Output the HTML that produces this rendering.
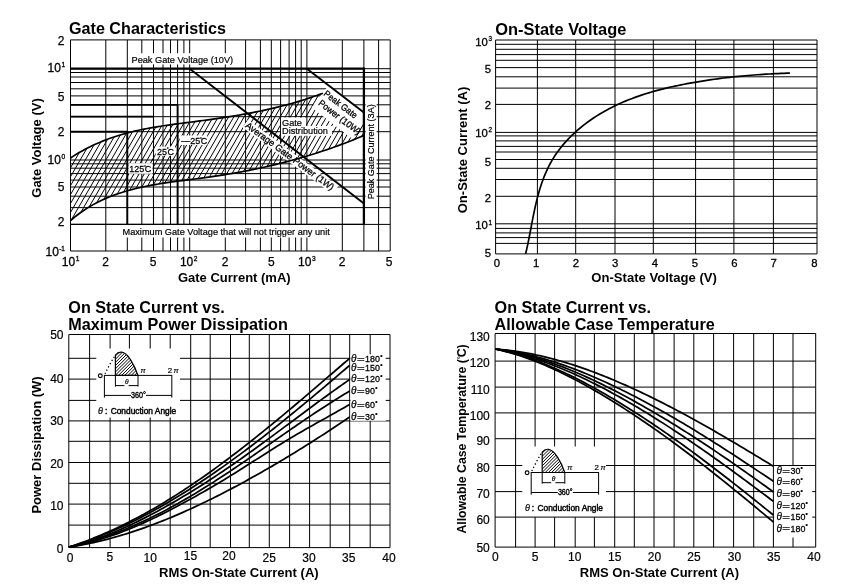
<!DOCTYPE html>
<html><head><meta charset="utf-8"><title>Characteristics</title>
<style>
html,body{margin:0;padding:0;background:#fff;}
body{width:841px;height:587px;overflow:hidden;}
svg{display:block;font-family:"Liberation Sans",sans-serif;}
</style></head><body>
<svg width="841" height="587" viewBox="0 0 841 587">
<rect width="841" height="587" fill="#fff"/>
<defs><clipPath id="c1"><path d="M70.50,158.00 L73.38,156.12 L76.28,154.32 L79.20,152.58 L82.14,150.90 L85.10,149.29 L88.07,147.75 L91.06,146.26 L94.07,144.84 L97.09,143.47 L100.13,142.16 L103.18,140.91 L106.25,139.72 L109.34,138.57 L112.43,137.48 L115.54,136.44 L118.67,135.45 L121.80,134.51 L124.95,133.61 L128.11,132.76 L131.29,131.96 L134.47,131.19 L137.66,130.47 L140.87,129.78 L144.08,129.12 L147.30,128.50 L150.53,127.90 L153.77,127.34 L157.02,126.80 L160.27,126.28 L163.53,125.78 L166.80,125.30 L170.08,124.83 L173.36,124.38 L176.64,123.94 L179.93,123.50 L183.23,123.07 L186.53,122.65 L189.83,122.23 L193.13,121.81 L196.44,121.38 L199.75,120.95 L203.06,120.51 L206.38,120.06 L209.69,119.60 L213.00,119.14 L216.32,118.66 L219.63,118.17 L222.95,117.67 L226.26,117.16 L229.57,116.64 L232.88,116.10 L236.18,115.55 L239.49,114.98 L242.79,114.40 L246.08,113.80 L249.37,113.19 L252.66,112.56 L255.94,111.91 L259.22,111.25 L262.49,110.56 L265.75,109.86 L269.01,109.14 L272.26,108.39 L275.50,107.63 L278.73,106.84 L281.96,106.03 L285.17,105.20 L288.38,104.34 L291.58,103.46 L294.76,102.56 L297.94,101.63 L301.10,100.67 L304.25,99.69 L307.39,98.68 L310.52,97.64 L313.64,96.57 L316.74,95.48 L319.83,94.36 L322.90,93.20 L363.9,112.42 L363.9,135.4 L364.00,135.40 L360.81,136.75 L357.61,138.08 L354.41,139.39 L351.19,140.68 L347.97,141.94 L344.74,143.19 L341.50,144.41 L338.25,145.61 L335.00,146.79 L331.74,147.95 L328.47,149.09 L325.19,150.21 L321.91,151.31 L318.61,152.39 L315.32,153.44 L312.01,154.48 L308.70,155.50 L305.38,156.50 L302.06,157.48 L298.73,158.43 L295.39,159.37 L292.04,160.29 L288.70,161.19 L285.34,162.08 L281.98,162.94 L278.61,163.78 L275.24,164.61 L271.86,165.42 L268.48,166.20 L265.09,166.98 L261.69,167.73 L258.29,168.46 L254.89,169.18 L251.48,169.88 L248.07,170.56 L244.65,171.22 L241.23,171.87 L237.80,172.50 L234.37,173.11 L230.94,173.70 L227.50,174.28 L224.06,174.84 L220.61,175.39 L217.16,175.92 L213.71,176.43 L210.25,176.93 L206.79,177.41 L203.33,177.87 L199.86,178.33 L196.40,178.78 L192.93,179.22 L189.47,179.66 L186.01,180.10 L182.55,180.55 L179.10,181.00 L175.65,181.46 L172.20,181.93 L168.77,182.42 L165.34,182.93 L161.91,183.46 L158.50,184.01 L155.10,184.58 L151.71,185.19 L148.33,185.83 L144.97,186.50 L141.62,187.21 L138.28,187.96 L134.96,188.76 L131.66,189.60 L128.37,190.49 L125.10,191.44 L121.86,192.44 L118.63,193.49 L115.42,194.61 L112.24,195.79 L109.08,197.04 L105.94,198.35 L102.83,199.74 L99.74,201.21 L96.68,202.75 L93.65,204.37 L90.65,206.08 L87.67,207.87 L84.73,209.75 L81.82,211.72 L78.94,213.79 L76.09,215.96 L73.27,218.23 L70.50,220.60 Z"/></clipPath></defs>
<line x1="70.50" y1="39.90" x2="70.50" y2="251.00" stroke="#000" stroke-width="1.0" />
<line x1="105.80" y1="39.90" x2="105.80" y2="251.00" stroke="#000" stroke-width="1.0" />
<line x1="127.30" y1="39.90" x2="127.30" y2="224.40" stroke="#000" stroke-width="1.0" />
<line x1="127.30" y1="237.50" x2="127.30" y2="251.00" stroke="#000" stroke-width="1.0" />
<line x1="141.80" y1="39.90" x2="141.80" y2="53.20" stroke="#000" stroke-width="1.0" />
<line x1="141.80" y1="64.40" x2="141.80" y2="224.40" stroke="#000" stroke-width="1.0" />
<line x1="141.80" y1="237.50" x2="141.80" y2="251.00" stroke="#000" stroke-width="1.0" />
<line x1="153.50" y1="39.90" x2="153.50" y2="53.20" stroke="#000" stroke-width="1.0" />
<line x1="153.50" y1="64.40" x2="153.50" y2="224.40" stroke="#000" stroke-width="1.0" />
<line x1="153.50" y1="237.50" x2="153.50" y2="251.00" stroke="#000" stroke-width="1.0" />
<line x1="163.00" y1="39.90" x2="163.00" y2="53.20" stroke="#000" stroke-width="1.0" />
<line x1="163.00" y1="64.40" x2="163.00" y2="224.40" stroke="#000" stroke-width="1.0" />
<line x1="163.00" y1="237.50" x2="163.00" y2="251.00" stroke="#000" stroke-width="1.0" />
<line x1="170.50" y1="39.90" x2="170.50" y2="53.20" stroke="#000" stroke-width="1.0" />
<line x1="170.50" y1="64.40" x2="170.50" y2="224.40" stroke="#000" stroke-width="1.0" />
<line x1="170.50" y1="237.50" x2="170.50" y2="251.00" stroke="#000" stroke-width="1.0" />
<line x1="177.60" y1="39.90" x2="177.60" y2="53.20" stroke="#000" stroke-width="1.0" />
<line x1="177.60" y1="64.40" x2="177.60" y2="224.40" stroke="#000" stroke-width="1.0" />
<line x1="177.60" y1="237.50" x2="177.60" y2="251.00" stroke="#000" stroke-width="1.0" />
<line x1="183.90" y1="39.90" x2="183.90" y2="53.20" stroke="#000" stroke-width="1.0" />
<line x1="183.90" y1="64.40" x2="183.90" y2="224.40" stroke="#000" stroke-width="1.0" />
<line x1="183.90" y1="237.50" x2="183.90" y2="251.00" stroke="#000" stroke-width="1.0" />
<line x1="189.70" y1="39.90" x2="189.70" y2="53.20" stroke="#000" stroke-width="1.0" />
<line x1="189.70" y1="64.40" x2="189.70" y2="224.40" stroke="#000" stroke-width="1.0" />
<line x1="189.70" y1="237.50" x2="189.70" y2="251.00" stroke="#000" stroke-width="1.0" />
<line x1="225.30" y1="39.90" x2="225.30" y2="53.20" stroke="#000" stroke-width="1.0" />
<line x1="225.30" y1="64.40" x2="225.30" y2="224.40" stroke="#000" stroke-width="1.0" />
<line x1="225.30" y1="237.50" x2="225.30" y2="251.00" stroke="#000" stroke-width="1.0" />
<line x1="245.60" y1="39.90" x2="245.60" y2="224.40" stroke="#000" stroke-width="1.0" />
<line x1="245.60" y1="237.50" x2="245.60" y2="251.00" stroke="#000" stroke-width="1.0" />
<line x1="260.40" y1="39.90" x2="260.40" y2="224.40" stroke="#000" stroke-width="1.0" />
<line x1="260.40" y1="237.50" x2="260.40" y2="251.00" stroke="#000" stroke-width="1.0" />
<line x1="271.30" y1="39.90" x2="271.30" y2="224.40" stroke="#000" stroke-width="1.0" />
<line x1="271.30" y1="237.50" x2="271.30" y2="251.00" stroke="#000" stroke-width="1.0" />
<line x1="280.60" y1="39.90" x2="280.60" y2="224.40" stroke="#000" stroke-width="1.0" />
<line x1="280.60" y1="237.50" x2="280.60" y2="251.00" stroke="#000" stroke-width="1.0" />
<line x1="289.10" y1="39.90" x2="289.10" y2="224.40" stroke="#000" stroke-width="1.0" />
<line x1="289.10" y1="237.50" x2="289.10" y2="251.00" stroke="#000" stroke-width="1.0" />
<line x1="295.60" y1="39.90" x2="295.60" y2="224.40" stroke="#000" stroke-width="1.0" />
<line x1="295.60" y1="237.50" x2="295.60" y2="251.00" stroke="#000" stroke-width="1.0" />
<line x1="301.20" y1="39.90" x2="301.20" y2="224.40" stroke="#000" stroke-width="1.0" />
<line x1="301.20" y1="237.50" x2="301.20" y2="251.00" stroke="#000" stroke-width="1.0" />
<line x1="306.90" y1="39.90" x2="306.90" y2="224.40" stroke="#000" stroke-width="1.0" />
<line x1="306.90" y1="237.50" x2="306.90" y2="251.00" stroke="#000" stroke-width="1.0" />
<line x1="342.30" y1="39.90" x2="342.30" y2="251.00" stroke="#000" stroke-width="1.0" />
<line x1="363.90" y1="39.90" x2="363.90" y2="251.00" stroke="#000" stroke-width="1.0" />
<line x1="378.60" y1="39.90" x2="378.60" y2="251.00" stroke="#000" stroke-width="1.0" />
<line x1="390.20" y1="39.90" x2="390.20" y2="251.00" stroke="#000" stroke-width="1.0" />
<line x1="70.50" y1="39.90" x2="390.20" y2="39.90" stroke="#000" stroke-width="1.0" />
<line x1="70.50" y1="68.70" x2="390.20" y2="68.70" stroke="#000" stroke-width="1.0" />
<line x1="70.50" y1="72.50" x2="390.20" y2="72.50" stroke="#000" stroke-width="1.0" />
<line x1="70.50" y1="77.00" x2="390.20" y2="77.00" stroke="#000" stroke-width="1.0" />
<line x1="70.50" y1="82.50" x2="390.20" y2="82.50" stroke="#000" stroke-width="1.0" />
<line x1="70.50" y1="88.80" x2="390.20" y2="88.80" stroke="#000" stroke-width="1.0" />
<line x1="70.50" y1="95.90" x2="390.20" y2="95.90" stroke="#000" stroke-width="1.0" />
<line x1="70.50" y1="104.80" x2="390.20" y2="104.80" stroke="#000" stroke-width="1.0" />
<line x1="70.50" y1="116.70" x2="390.20" y2="116.70" stroke="#000" stroke-width="1.0" />
<line x1="70.50" y1="131.70" x2="390.20" y2="131.70" stroke="#000" stroke-width="1.0" />
<line x1="70.50" y1="160.00" x2="390.20" y2="160.00" stroke="#000" stroke-width="1.0" />
<line x1="70.50" y1="163.80" x2="390.20" y2="163.80" stroke="#000" stroke-width="1.0" />
<line x1="70.50" y1="168.20" x2="390.20" y2="168.20" stroke="#000" stroke-width="1.0" />
<line x1="70.50" y1="173.60" x2="390.20" y2="173.60" stroke="#000" stroke-width="1.0" />
<line x1="70.50" y1="180.10" x2="390.20" y2="180.10" stroke="#000" stroke-width="1.0" />
<line x1="70.50" y1="187.00" x2="390.20" y2="187.00" stroke="#000" stroke-width="1.0" />
<line x1="70.50" y1="196.20" x2="390.20" y2="196.20" stroke="#000" stroke-width="1.0" />
<line x1="70.50" y1="207.60" x2="390.20" y2="207.60" stroke="#000" stroke-width="1.0" />
<line x1="70.50" y1="224.40" x2="390.20" y2="224.40" stroke="#000" stroke-width="1.0" />
<line x1="70.50" y1="251.00" x2="390.20" y2="251.00" stroke="#000" stroke-width="1.0" />
<g clip-path="url(#c1)" stroke="#000" stroke-width="1.0">
<line x1="-78.70" y1="230" x2="7.90" y2="80"/>
<line x1="-73.55" y1="230" x2="13.05" y2="80"/>
<line x1="-68.40" y1="230" x2="18.20" y2="80"/>
<line x1="-63.25" y1="230" x2="23.35" y2="80"/>
<line x1="-58.10" y1="230" x2="28.50" y2="80"/>
<line x1="-52.95" y1="230" x2="33.65" y2="80"/>
<line x1="-47.80" y1="230" x2="38.80" y2="80"/>
<line x1="-42.65" y1="230" x2="43.95" y2="80"/>
<line x1="-37.50" y1="230" x2="49.10" y2="80"/>
<line x1="-32.35" y1="230" x2="54.25" y2="80"/>
<line x1="-27.20" y1="230" x2="59.40" y2="80"/>
<line x1="-22.05" y1="230" x2="64.55" y2="80"/>
<line x1="-16.90" y1="230" x2="69.70" y2="80"/>
<line x1="-11.75" y1="230" x2="74.85" y2="80"/>
<line x1="-6.60" y1="230" x2="80.00" y2="80"/>
<line x1="-1.45" y1="230" x2="85.15" y2="80"/>
<line x1="3.70" y1="230" x2="90.30" y2="80"/>
<line x1="8.85" y1="230" x2="95.45" y2="80"/>
<line x1="14.00" y1="230" x2="100.60" y2="80"/>
<line x1="19.15" y1="230" x2="105.75" y2="80"/>
<line x1="24.30" y1="230" x2="110.90" y2="80"/>
<line x1="29.45" y1="230" x2="116.05" y2="80"/>
<line x1="34.60" y1="230" x2="121.20" y2="80"/>
<line x1="39.75" y1="230" x2="126.35" y2="80"/>
<line x1="44.90" y1="230" x2="131.50" y2="80"/>
<line x1="50.05" y1="230" x2="136.65" y2="80"/>
<line x1="55.20" y1="230" x2="141.80" y2="80"/>
<line x1="60.35" y1="230" x2="146.95" y2="80"/>
<line x1="65.50" y1="230" x2="152.10" y2="80"/>
<line x1="70.65" y1="230" x2="157.25" y2="80"/>
<line x1="75.80" y1="230" x2="162.40" y2="80"/>
<line x1="80.95" y1="230" x2="167.55" y2="80"/>
<line x1="86.10" y1="230" x2="172.70" y2="80"/>
<line x1="91.25" y1="230" x2="177.85" y2="80"/>
<line x1="96.40" y1="230" x2="183.00" y2="80"/>
<line x1="101.55" y1="230" x2="188.15" y2="80"/>
<line x1="106.70" y1="230" x2="193.30" y2="80"/>
<line x1="111.85" y1="230" x2="198.45" y2="80"/>
<line x1="117.00" y1="230" x2="203.60" y2="80"/>
<line x1="122.15" y1="230" x2="208.75" y2="80"/>
<line x1="127.30" y1="230" x2="213.90" y2="80"/>
<line x1="132.45" y1="230" x2="219.05" y2="80"/>
<line x1="137.60" y1="230" x2="224.20" y2="80"/>
<line x1="142.75" y1="230" x2="229.35" y2="80"/>
<line x1="147.90" y1="230" x2="234.50" y2="80"/>
<line x1="153.05" y1="230" x2="239.65" y2="80"/>
<line x1="158.20" y1="230" x2="244.80" y2="80"/>
<line x1="163.35" y1="230" x2="249.95" y2="80"/>
<line x1="168.50" y1="230" x2="255.10" y2="80"/>
<line x1="173.65" y1="230" x2="260.25" y2="80"/>
<line x1="178.80" y1="230" x2="265.40" y2="80"/>
<line x1="183.95" y1="230" x2="270.55" y2="80"/>
<line x1="189.10" y1="230" x2="275.70" y2="80"/>
<line x1="194.25" y1="230" x2="280.85" y2="80"/>
<line x1="199.40" y1="230" x2="286.00" y2="80"/>
<line x1="204.55" y1="230" x2="291.15" y2="80"/>
<line x1="209.70" y1="230" x2="296.30" y2="80"/>
<line x1="214.85" y1="230" x2="301.45" y2="80"/>
<line x1="220.00" y1="230" x2="306.60" y2="80"/>
<line x1="225.15" y1="230" x2="311.75" y2="80"/>
<line x1="230.30" y1="230" x2="316.90" y2="80"/>
<line x1="235.45" y1="230" x2="322.05" y2="80"/>
<line x1="240.60" y1="230" x2="327.20" y2="80"/>
<line x1="245.75" y1="230" x2="332.35" y2="80"/>
<line x1="250.90" y1="230" x2="337.50" y2="80"/>
<line x1="256.05" y1="230" x2="342.65" y2="80"/>
<line x1="261.20" y1="230" x2="347.80" y2="80"/>
<line x1="266.35" y1="230" x2="352.95" y2="80"/>
<line x1="271.50" y1="230" x2="358.10" y2="80"/>
<line x1="276.65" y1="230" x2="363.25" y2="80"/>
<line x1="281.80" y1="230" x2="368.40" y2="80"/>
<line x1="286.95" y1="230" x2="373.55" y2="80"/>
<line x1="292.10" y1="230" x2="378.70" y2="80"/>
<line x1="297.25" y1="230" x2="383.85" y2="80"/>
<line x1="302.40" y1="230" x2="389.00" y2="80"/>
<line x1="307.55" y1="230" x2="394.15" y2="80"/>
<line x1="312.70" y1="230" x2="399.30" y2="80"/>
<line x1="317.85" y1="230" x2="404.45" y2="80"/>
<line x1="323.00" y1="230" x2="409.60" y2="80"/>
<line x1="328.15" y1="230" x2="414.75" y2="80"/>
<line x1="333.30" y1="230" x2="419.90" y2="80"/>
<line x1="338.45" y1="230" x2="425.05" y2="80"/>
<line x1="343.60" y1="230" x2="430.20" y2="80"/>
<line x1="348.75" y1="230" x2="435.35" y2="80"/>
<line x1="353.90" y1="230" x2="440.50" y2="80"/>
<line x1="359.05" y1="230" x2="445.65" y2="80"/>
<line x1="364.20" y1="230" x2="450.80" y2="80"/>
<line x1="369.35" y1="230" x2="455.95" y2="80"/>
<line x1="374.50" y1="230" x2="461.10" y2="80"/>
<line x1="379.65" y1="230" x2="466.25" y2="80"/>
</g>
<rect x="128.40" y="163.20" width="24.20" height="10.60" fill="#fff" />
<rect x="155.70" y="146.60" width="19.60" height="9.20" fill="#fff" />
<rect x="179.60" y="135.50" width="27.80" height="9.50" fill="#fff" />
<rect x="281.00" y="117.50" width="25.00" height="9.00" fill="#fff" />
<rect x="281.00" y="126.00" width="51.00" height="9.80" fill="#fff" />
<g transform="translate(249.8,117.3) rotate(36.5)">
<rect x="0.00" y="3.00" width="112.00" height="9.50" fill="#fff" />
</g>
<g transform="translate(328,88.5) rotate(37.6)">
<rect x="-1.50" y="-2.30" width="50.00" height="27.30" fill="#fff" />
</g>
<rect x="365.60" y="104.00" width="11.00" height="95.50" fill="#fff" />
<line x1="70.50" y1="68.70" x2="363.90" y2="68.70" stroke="#000" stroke-width="2.2" />
<line x1="363.90" y1="67.60" x2="363.90" y2="224.40" stroke="#000" stroke-width="2.3" />
<line x1="70.50" y1="224.40" x2="363.90" y2="224.40" stroke="#000" stroke-width="1.35" />
<line x1="70.50" y1="104.80" x2="177.60" y2="104.80" stroke="#000" stroke-width="1.8" />
<line x1="177.60" y1="104.80" x2="177.60" y2="224.40" stroke="#000" stroke-width="1.9" />
<line x1="70.50" y1="116.70" x2="153.50" y2="116.70" stroke="#000" stroke-width="1.8" />
<line x1="153.50" y1="116.70" x2="153.50" y2="224.40" stroke="#000" stroke-width="1.1" />
<line x1="70.50" y1="131.70" x2="127.30" y2="131.70" stroke="#000" stroke-width="2.0" />
<line x1="127.30" y1="131.70" x2="127.30" y2="224.40" stroke="#000" stroke-width="1.9" />
<line x1="189.70" y1="68.70" x2="363.90" y2="203.42" stroke="#000" stroke-width="1.9" />
<line x1="306.90" y1="68.70" x2="363.90" y2="112.42" stroke="#000" stroke-width="1.9" />
<path d="M70.50,158.00 L73.38,156.12 L76.28,154.32 L79.20,152.58 L82.14,150.90 L85.10,149.29 L88.07,147.75 L91.06,146.26 L94.07,144.84 L97.09,143.47 L100.13,142.16 L103.18,140.91 L106.25,139.72 L109.34,138.57 L112.43,137.48 L115.54,136.44 L118.67,135.45 L121.80,134.51 L124.95,133.61 L128.11,132.76 L131.29,131.96 L134.47,131.19 L137.66,130.47 L140.87,129.78 L144.08,129.12 L147.30,128.50 L150.53,127.90 L153.77,127.34 L157.02,126.80 L160.27,126.28 L163.53,125.78 L166.80,125.30 L170.08,124.83 L173.36,124.38 L176.64,123.94 L179.93,123.50 L183.23,123.07 L186.53,122.65 L189.83,122.23 L193.13,121.81 L196.44,121.38 L199.75,120.95 L203.06,120.51 L206.38,120.06 L209.69,119.60 L213.00,119.14 L216.32,118.66 L219.63,118.17 L222.95,117.67 L226.26,117.16 L229.57,116.64 L232.88,116.10 L236.18,115.55 L239.49,114.98 L242.79,114.40 L246.08,113.80 L249.37,113.19 L252.66,112.56 L255.94,111.91 L259.22,111.25 L262.49,110.56 L265.75,109.86 L269.01,109.14 L272.26,108.39 L275.50,107.63 L278.73,106.84 L281.96,106.03 L285.17,105.20 L288.38,104.34 L291.58,103.46 L294.76,102.56 L297.94,101.63 L301.10,100.67 L304.25,99.69 L307.39,98.68 L310.52,97.64 L313.64,96.57 L316.74,95.48 L319.83,94.36 L322.90,93.20" stroke="#000" stroke-width="1.7" fill="none" />
<path d="M70.50,220.60 L73.27,218.23 L76.09,215.96 L78.94,213.79 L81.82,211.72 L84.73,209.75 L87.67,207.87 L90.65,206.08 L93.65,204.37 L96.68,202.75 L99.74,201.21 L102.83,199.74 L105.94,198.35 L109.08,197.04 L112.24,195.79 L115.42,194.61 L118.63,193.49 L121.86,192.44 L125.10,191.44 L128.37,190.49 L131.66,189.60 L134.96,188.76 L138.28,187.96 L141.62,187.21 L144.97,186.50 L148.33,185.83 L151.71,185.19 L155.10,184.58 L158.50,184.01 L161.91,183.46 L165.34,182.93 L168.77,182.42 L172.20,181.93 L175.65,181.46 L179.10,181.00 L182.55,180.55 L186.01,180.10 L189.47,179.66 L192.93,179.22 L196.40,178.78 L199.86,178.33 L203.33,177.87 L206.79,177.41 L210.25,176.93 L213.71,176.43 L217.16,175.92 L220.61,175.39 L224.06,174.84 L227.50,174.28 L230.94,173.70 L234.37,173.11 L237.80,172.50 L241.23,171.87 L244.65,171.22 L248.07,170.56 L251.48,169.88 L254.89,169.18 L258.29,168.46 L261.69,167.73 L265.09,166.98 L268.48,166.20 L271.86,165.42 L275.24,164.61 L278.61,163.78 L281.98,162.94 L285.34,162.08 L288.70,161.19 L292.04,160.29 L295.39,159.37 L298.73,158.43 L302.06,157.48 L305.38,156.50 L308.70,155.50 L312.01,154.48 L315.32,153.44 L318.61,152.39 L321.91,151.31 L325.19,150.21 L328.47,149.09 L331.74,147.95 L335.00,146.79 L338.25,145.61 L341.50,144.41 L344.74,143.19 L347.97,141.94 L351.19,140.68 L354.41,139.39 L357.61,138.08 L360.81,136.75 L364.00,135.40" stroke="#000" stroke-width="1.7" fill="none" />
<g transform="translate(129.20,172.20) scale(0.92,1)"><text x="0" y="0" font-size="9.8" fill="#000" stroke="#000" stroke-width="0.25">125<tspan font-size="5.4" dy="-3.6" dx="-0.3">°</tspan><tspan dy="3.6" dx="-1.3">C</tspan></text></g>
<g transform="translate(157.00,155.00) scale(0.92,1)"><text x="0" y="0" font-size="9.8" fill="#000" stroke="#000" stroke-width="0.25">25<tspan font-size="5.4" dy="-3.6" dx="-0.3">°</tspan><tspan dy="3.6" dx="-1.3">C</tspan></text></g>
<g transform="translate(181.20,144.30) scale(0.92,1)"><text x="0" y="0" font-size="9.8" fill="#000" stroke="#000" stroke-width="0.25">—25<tspan font-size="5.4" dy="-3.6" dx="-0.3">°</tspan><tspan dy="3.6" dx="-1.3">C</tspan></text></g>
<text x="282.00" y="125.60" font-size="9.2" text-anchor="start" fill="#000" stroke="#000" stroke-width="0.2">Gate</text>
<text x="282.00" y="134.30" font-size="9.2" text-anchor="start" fill="#000" stroke="#000" stroke-width="0.2">Distribution</text>
<g transform="translate(249.8,117.3) rotate(36.5)">
<text x="1.50" y="10.50" font-size="9.2" text-anchor="start" fill="#000" stroke="#000" stroke-width="0.3">Average Gate Power (1W)</text>
</g>
<g transform="translate(328,88.5) rotate(37.6)">
<text x="0.00" y="8.00" font-size="9.2" text-anchor="start" fill="#000" stroke="#000" stroke-width="0.3" textLength="39.5" lengthAdjust="spacingAndGlyphs">Peak Gate</text>
<text x="1.50" y="18.80" font-size="9.2" text-anchor="start" fill="#000" stroke="#000" stroke-width="0.3" textLength="50.5" lengthAdjust="spacingAndGlyphs">Power (10W)</text>
</g>
<text x="373.60" y="199.30" font-size="9.2" text-anchor="start" fill="#000" stroke="#000" stroke-width="0.2" transform="rotate(-90 373.60 199.30)" textLength="95" lengthAdjust="spacingAndGlyphs">Peak Gate Current (3A)</text>
<text x="131.50" y="63.30" font-size="9.2" text-anchor="start" fill="#000" stroke="#000" stroke-width="0.2">Peak Gate Voltage (10V)</text>
<text x="122.50" y="235.20" font-size="9.2" text-anchor="start" fill="#000" stroke="#000" stroke-width="0.2">Maximum Gate Voltage that will not trigger any unit</text>
<text x="69.00" y="34.20" font-size="16.8" font-weight="bold" text-anchor="start" fill="#000" textLength="157" lengthAdjust="spacingAndGlyphs">Gate Characteristics</text>
<text x="234.30" y="282.00" font-size="13" font-weight="bold" text-anchor="middle" fill="#000">Gate Current (mA)</text>
<text x="40.50" y="148.00" font-size="13" font-weight="bold" text-anchor="middle" fill="#000" transform="rotate(-90 40.50 148.00)">Gate Voltage (V)</text>
<text x="64.40" y="45.10" font-size="12" text-anchor="end" fill="#000" stroke="#000" stroke-width="0.25">2</text>
<text x="64.40" y="100.90" font-size="12" text-anchor="end" fill="#000" stroke="#000" stroke-width="0.25">5</text>
<text x="64.40" y="135.70" font-size="12" text-anchor="end" fill="#000" stroke="#000" stroke-width="0.25">2</text>
<text x="64.40" y="191.30" font-size="12" text-anchor="end" fill="#000" stroke="#000" stroke-width="0.25">5</text>
<text x="64.40" y="226.40" font-size="12" text-anchor="end" fill="#000" stroke="#000" stroke-width="0.25">2</text>
<text x="47.60" y="72.00" font-size="12" fill="#000" stroke="#000" stroke-width="0.3">10<tspan font-size="6.6" dy="-4.6" dx="0.6">1</tspan></text>
<text x="47.60" y="163.80" font-size="12" fill="#000" stroke="#000" stroke-width="0.3">10<tspan font-size="6.6" dy="-4.6" dx="0.6">0</tspan></text>
<text x="45.60" y="256.40" font-size="12" fill="#000" stroke="#000" stroke-width="0.3">10<tspan font-size="6.4" dy="-5.2" dx="0.2">-1</tspan></text>
<text x="61.80" y="265.80" font-size="12" fill="#000" stroke="#000" stroke-width="0.3">10<tspan font-size="6.6" dy="-4.6" dx="0.6">1</tspan></text>
<text x="179.90" y="265.80" font-size="12" fill="#000" stroke="#000" stroke-width="0.3">10<tspan font-size="6.6" dy="-4.6" dx="0.6">2</tspan></text>
<text x="298.10" y="265.80" font-size="12" fill="#000" stroke="#000" stroke-width="0.3">10<tspan font-size="6.6" dy="-4.6" dx="0.6">3</tspan></text>
<text x="105.60" y="265.80" font-size="12" text-anchor="middle" fill="#000" stroke="#000" stroke-width="0.25">2</text>
<text x="153.20" y="265.80" font-size="12" text-anchor="middle" fill="#000" stroke="#000" stroke-width="0.25">5</text>
<text x="225.00" y="265.80" font-size="12" text-anchor="middle" fill="#000" stroke="#000" stroke-width="0.25">2</text>
<text x="271.30" y="265.80" font-size="12" text-anchor="middle" fill="#000" stroke="#000" stroke-width="0.25">5</text>
<text x="342.20" y="265.80" font-size="12" text-anchor="middle" fill="#000" stroke="#000" stroke-width="0.25">2</text>
<text x="389.00" y="265.80" font-size="12" text-anchor="middle" fill="#000" stroke="#000" stroke-width="0.25">5</text>
<line x1="495.60" y1="40.00" x2="495.60" y2="253.90" stroke="#000" stroke-width="1.0" />
<line x1="537.40" y1="40.00" x2="537.40" y2="253.90" stroke="#000" stroke-width="1.0" />
<line x1="575.70" y1="40.00" x2="575.70" y2="253.90" stroke="#000" stroke-width="1.0" />
<line x1="615.00" y1="40.00" x2="615.00" y2="253.90" stroke="#000" stroke-width="1.0" />
<line x1="653.30" y1="40.00" x2="653.30" y2="253.90" stroke="#000" stroke-width="1.0" />
<line x1="695.60" y1="40.00" x2="695.60" y2="253.90" stroke="#000" stroke-width="1.0" />
<line x1="733.90" y1="40.00" x2="733.90" y2="253.90" stroke="#000" stroke-width="1.0" />
<line x1="773.40" y1="40.00" x2="773.40" y2="253.90" stroke="#000" stroke-width="1.0" />
<line x1="817.00" y1="40.00" x2="817.00" y2="253.90" stroke="#000" stroke-width="1.0" />
<line x1="495.60" y1="40.00" x2="817.00" y2="40.00" stroke="#000" stroke-width="1.0" />
<line x1="495.60" y1="44.30" x2="817.00" y2="44.30" stroke="#000" stroke-width="1.0" />
<line x1="495.60" y1="49.30" x2="817.00" y2="49.30" stroke="#000" stroke-width="1.0" />
<line x1="495.60" y1="54.60" x2="817.00" y2="54.60" stroke="#000" stroke-width="1.0" />
<line x1="495.60" y1="60.30" x2="817.00" y2="60.30" stroke="#000" stroke-width="1.0" />
<line x1="495.60" y1="67.60" x2="817.00" y2="67.60" stroke="#000" stroke-width="1.0" />
<line x1="495.60" y1="76.80" x2="817.00" y2="76.80" stroke="#000" stroke-width="1.0" />
<line x1="495.60" y1="88.10" x2="817.00" y2="88.10" stroke="#000" stroke-width="1.0" />
<line x1="495.60" y1="104.40" x2="817.00" y2="104.40" stroke="#000" stroke-width="1.0" />
<line x1="495.60" y1="132.40" x2="817.00" y2="132.40" stroke="#000" stroke-width="1.0" />
<line x1="495.60" y1="135.90" x2="817.00" y2="135.90" stroke="#000" stroke-width="1.0" />
<line x1="495.60" y1="140.90" x2="817.00" y2="140.90" stroke="#000" stroke-width="1.0" />
<line x1="495.60" y1="146.40" x2="817.00" y2="146.40" stroke="#000" stroke-width="1.0" />
<line x1="495.60" y1="152.00" x2="817.00" y2="152.00" stroke="#000" stroke-width="1.0" />
<line x1="495.60" y1="159.50" x2="817.00" y2="159.50" stroke="#000" stroke-width="1.0" />
<line x1="495.60" y1="168.30" x2="817.00" y2="168.30" stroke="#000" stroke-width="1.0" />
<line x1="495.60" y1="179.50" x2="817.00" y2="179.50" stroke="#000" stroke-width="1.0" />
<line x1="495.60" y1="196.30" x2="817.00" y2="196.30" stroke="#000" stroke-width="1.0" />
<line x1="495.60" y1="223.80" x2="817.00" y2="223.80" stroke="#000" stroke-width="1.0" />
<line x1="495.60" y1="228.40" x2="817.00" y2="228.40" stroke="#000" stroke-width="1.0" />
<line x1="495.60" y1="232.90" x2="817.00" y2="232.90" stroke="#000" stroke-width="1.0" />
<line x1="495.60" y1="237.60" x2="817.00" y2="237.60" stroke="#000" stroke-width="1.0" />
<line x1="495.60" y1="243.40" x2="817.00" y2="243.40" stroke="#000" stroke-width="1.0" />
<line x1="495.60" y1="253.90" x2="817.00" y2="253.90" stroke="#000" stroke-width="1.0" />
<path d="M525.60,253.90 L526.29,251.01 L526.95,248.09 L527.59,245.16 L528.21,242.20 L528.81,239.23 L529.40,236.25 L529.97,233.25 L530.55,230.24 L531.12,227.23 L531.69,224.21 L532.27,221.19 L532.86,218.16 L533.46,215.14 L534.08,212.12 L534.72,209.11 L535.38,206.10 L536.07,203.10 L536.79,200.11 L537.54,197.14 L538.34,194.18 L539.17,191.24 L540.05,188.32 L540.97,185.42 L541.95,182.54 L542.97,179.69 L544.05,176.87 L545.19,174.08 L546.39,171.32 L547.65,168.60 L548.98,165.91 L550.38,163.27 L551.85,160.66 L553.40,158.10 L555.02,155.57 L556.70,153.10 L558.46,150.66 L560.28,148.27 L562.16,145.92 L564.10,143.62 L566.10,141.36 L568.16,139.15 L570.27,136.98 L572.44,134.85 L574.65,132.77 L576.91,130.74 L579.22,128.75 L581.56,126.81 L583.95,124.91 L586.38,123.06 L588.84,121.25 L591.33,119.50 L593.86,117.79 L596.41,116.12 L599.00,114.51 L601.60,112.94 L604.23,111.42 L606.88,109.94 L609.55,108.52 L612.23,107.14 L614.94,105.80 L617.66,104.51 L620.40,103.26 L623.16,102.05 L625.93,100.89 L628.72,99.76 L631.52,98.67 L634.34,97.61 L637.18,96.60 L640.02,95.61 L642.89,94.66 L645.76,93.75 L648.65,92.86 L651.55,92.01 L654.46,91.18 L657.38,90.38 L660.31,89.61 L663.26,88.86 L666.21,88.14 L669.17,87.44 L672.14,86.77 L675.12,86.12 L678.11,85.48 L681.10,84.87 L684.11,84.27 L687.11,83.69 L690.13,83.13 L693.15,82.58 L696.17,82.05 L699.20,81.54 L702.24,81.05 L705.27,80.57 L708.31,80.10 L711.36,79.66 L714.40,79.23 L717.45,78.81 L720.50,78.41 L723.55,78.03 L726.60,77.66 L729.65,77.31 L732.70,76.97 L735.74,76.64 L738.79,76.33 L741.84,76.04 L744.88,75.75 L747.92,75.49 L750.95,75.23 L753.98,74.99 L757.01,74.77 L760.04,74.55 L763.05,74.35 L766.07,74.16 L769.07,73.99 L772.07,73.82 L775.06,73.67 L778.05,73.54 L781.02,73.41 L783.99,73.29 L786.95,73.19 L789.90,73.10" stroke="#000" stroke-width="1.7" fill="none" stroke-linejoin="round"/>
<text x="495.30" y="34.60" font-size="16.5" font-weight="bold" text-anchor="start" fill="#000" textLength="131" lengthAdjust="spacingAndGlyphs">On-State Voltage</text>
<text x="654.10" y="282.10" font-size="13" font-weight="bold" text-anchor="middle" fill="#000" textLength="125.5" lengthAdjust="spacingAndGlyphs">On-State Voltage (V)</text>
<text x="467.00" y="150.00" font-size="13" font-weight="bold" text-anchor="middle" fill="#000" transform="rotate(-90 467.00 150.00)" textLength="126.5" lengthAdjust="spacingAndGlyphs">On-State Current (A)</text>
<text x="496.90" y="266.60" font-size="11.3" text-anchor="middle" fill="#000" stroke="#000" stroke-width="0.3">0</text>
<text x="536.20" y="266.60" font-size="11.3" text-anchor="middle" fill="#000" stroke="#000" stroke-width="0.3">1</text>
<text x="575.80" y="266.60" font-size="11.3" text-anchor="middle" fill="#000" stroke="#000" stroke-width="0.3">2</text>
<text x="615.20" y="266.60" font-size="11.3" text-anchor="middle" fill="#000" stroke="#000" stroke-width="0.3">3</text>
<text x="654.80" y="266.60" font-size="11.3" text-anchor="middle" fill="#000" stroke="#000" stroke-width="0.3">4</text>
<text x="695.00" y="266.60" font-size="11.3" text-anchor="middle" fill="#000" stroke="#000" stroke-width="0.3">5</text>
<text x="734.30" y="266.60" font-size="11.3" text-anchor="middle" fill="#000" stroke="#000" stroke-width="0.3">6</text>
<text x="773.70" y="266.60" font-size="11.3" text-anchor="middle" fill="#000" stroke="#000" stroke-width="0.3">7</text>
<text x="814.40" y="266.60" font-size="11.3" text-anchor="middle" fill="#000" stroke="#000" stroke-width="0.3">8</text>
<text x="491.00" y="72.70" font-size="11.3" text-anchor="end" fill="#000" stroke="#000" stroke-width="0.3">5</text>
<text x="491.00" y="109.40" font-size="11.3" text-anchor="end" fill="#000" stroke="#000" stroke-width="0.3">2</text>
<text x="491.00" y="165.80" font-size="11.3" text-anchor="end" fill="#000" stroke="#000" stroke-width="0.3">5</text>
<text x="491.00" y="202.10" font-size="11.3" text-anchor="end" fill="#000" stroke="#000" stroke-width="0.3">2</text>
<text x="491.00" y="257.10" font-size="11.3" text-anchor="end" fill="#000" stroke="#000" stroke-width="0.3">5</text>
<text x="475.20" y="46.00" font-size="11.3" fill="#000" stroke="#000" stroke-width="0.3">10<tspan font-size="6.3" dy="-4.6" dx="0.6">3</tspan></text>
<text x="475.20" y="136.90" font-size="11.3" fill="#000" stroke="#000" stroke-width="0.3">10<tspan font-size="6.3" dy="-4.6" dx="0.6">2</tspan></text>
<text x="475.20" y="229.10" font-size="11.3" fill="#000" stroke="#000" stroke-width="0.3">10<tspan font-size="6.3" dy="-4.6" dx="0.6">1</tspan></text>
<line x1="68.80" y1="334.50" x2="68.80" y2="547.60" stroke="#000" stroke-width="1.0" />
<line x1="89.60" y1="334.50" x2="89.60" y2="547.60" stroke="#000" stroke-width="1.0" />
<line x1="110.10" y1="334.50" x2="110.10" y2="348.50" stroke="#000" stroke-width="1.0" />
<line x1="110.10" y1="417.50" x2="110.10" y2="547.60" stroke="#000" stroke-width="1.0" />
<line x1="129.40" y1="334.50" x2="129.40" y2="348.50" stroke="#000" stroke-width="1.0" />
<line x1="129.40" y1="417.50" x2="129.40" y2="547.60" stroke="#000" stroke-width="1.0" />
<line x1="150.20" y1="334.50" x2="150.20" y2="348.50" stroke="#000" stroke-width="1.0" />
<line x1="150.20" y1="417.50" x2="150.20" y2="547.60" stroke="#000" stroke-width="1.0" />
<line x1="170.20" y1="334.50" x2="170.20" y2="348.50" stroke="#000" stroke-width="1.0" />
<line x1="170.20" y1="417.50" x2="170.20" y2="547.60" stroke="#000" stroke-width="1.0" />
<line x1="190.70" y1="334.50" x2="190.70" y2="547.60" stroke="#000" stroke-width="1.0" />
<line x1="210.20" y1="334.50" x2="210.20" y2="547.60" stroke="#000" stroke-width="1.0" />
<line x1="230.50" y1="334.50" x2="230.50" y2="547.60" stroke="#000" stroke-width="1.0" />
<line x1="249.30" y1="334.50" x2="249.30" y2="547.60" stroke="#000" stroke-width="1.0" />
<line x1="269.30" y1="334.50" x2="269.30" y2="547.60" stroke="#000" stroke-width="1.0" />
<line x1="289.60" y1="334.50" x2="289.60" y2="547.60" stroke="#000" stroke-width="1.0" />
<line x1="309.60" y1="334.50" x2="309.60" y2="547.60" stroke="#000" stroke-width="1.0" />
<line x1="330.20" y1="334.50" x2="330.20" y2="547.60" stroke="#000" stroke-width="1.0" />
<line x1="349.70" y1="334.50" x2="349.70" y2="547.60" stroke="#000" stroke-width="1.0" />
<line x1="370.20" y1="334.50" x2="370.20" y2="547.60" stroke="#000" stroke-width="1.0" />
<line x1="390.00" y1="334.50" x2="390.00" y2="547.60" stroke="#000" stroke-width="1.0" />
<line x1="68.80" y1="334.50" x2="390.00" y2="334.50" stroke="#000" stroke-width="1.0" />
<line x1="68.80" y1="358.30" x2="96.30" y2="358.30" stroke="#000" stroke-width="1.0" />
<line x1="180.00" y1="358.30" x2="390.00" y2="358.30" stroke="#000" stroke-width="1.0" />
<line x1="68.80" y1="379.10" x2="96.30" y2="379.10" stroke="#000" stroke-width="1.0" />
<line x1="180.00" y1="379.10" x2="390.00" y2="379.10" stroke="#000" stroke-width="1.0" />
<line x1="68.80" y1="400.40" x2="96.30" y2="400.40" stroke="#000" stroke-width="1.0" />
<line x1="180.00" y1="400.40" x2="390.00" y2="400.40" stroke="#000" stroke-width="1.0" />
<line x1="68.80" y1="420.90" x2="390.00" y2="420.90" stroke="#000" stroke-width="1.0" />
<line x1="68.80" y1="441.30" x2="390.00" y2="441.30" stroke="#000" stroke-width="1.0" />
<line x1="68.80" y1="462.50" x2="390.00" y2="462.50" stroke="#000" stroke-width="1.0" />
<line x1="68.80" y1="483.30" x2="390.00" y2="483.30" stroke="#000" stroke-width="1.0" />
<line x1="68.80" y1="504.10" x2="390.00" y2="504.10" stroke="#000" stroke-width="1.0" />
<line x1="68.80" y1="525.10" x2="390.00" y2="525.10" stroke="#000" stroke-width="1.0" />
<line x1="68.80" y1="547.60" x2="390.00" y2="547.60" stroke="#000" stroke-width="1.0" />
<path d="M68.80,547.20 L72.09,546.11 L75.37,544.98 L78.63,543.83 L81.88,542.65 L85.11,541.45 L88.34,540.21 L91.55,538.96 L94.74,537.67 L97.93,536.36 L101.10,535.03 L104.26,533.67 L107.41,532.29 L110.54,530.88 L113.67,529.45 L116.78,528.00 L119.88,526.52 L122.97,525.03 L126.04,523.50 L129.11,521.96 L132.16,520.40 L135.21,518.81 L138.24,517.21 L141.26,515.58 L144.27,513.94 L147.28,512.27 L150.27,510.59 L153.25,508.89 L156.22,507.16 L159.18,505.42 L162.13,503.67 L165.07,501.89 L168.00,500.10 L170.92,498.29 L173.83,496.47 L176.74,494.63 L179.63,492.77 L182.52,490.90 L185.39,489.01 L188.26,487.11 L191.12,485.20 L193.97,483.27 L196.82,481.33 L199.65,479.37 L202.48,477.41 L205.30,475.43 L208.11,473.43 L210.92,471.43 L213.71,469.42 L216.50,467.39 L219.28,465.35 L222.06,463.31 L224.83,461.25 L227.59,459.19 L230.35,457.11 L233.10,455.03 L235.84,452.94 L238.57,450.84 L241.30,448.73 L244.03,446.61 L246.75,444.49 L249.46,442.36 L252.17,440.22 L254.87,438.08 L257.57,435.93 L260.26,433.77 L262.95,431.61 L265.63,429.44 L268.31,427.26 L270.98,425.08 L273.65,422.90 L276.31,420.71 L278.97,418.51 L281.63,416.31 L284.28,414.11 L286.93,411.90 L289.57,409.69 L292.21,407.47 L294.85,405.26 L297.48,403.03 L300.12,400.81 L302.74,398.58 L305.37,396.35 L307.99,394.12 L310.61,391.89 L313.23,389.65 L315.85,387.41 L318.46,385.17 L321.07,382.93 L323.68,380.69 L326.29,378.45 L328.89,376.21 L331.50,373.97 L334.10,371.73 L336.70,369.49 L339.30,367.25 L341.90,365.01 L344.50,362.77 L347.10,360.54 L349.70,358.30" stroke="#000" stroke-width="1.75" fill="none" stroke-linejoin="round"/>
<path d="M68.80,547.20 L72.07,546.19 L75.32,545.15 L78.56,544.08 L81.80,542.98 L85.01,541.85 L88.22,540.70 L91.42,539.52 L94.60,538.32 L97.77,537.09 L100.94,535.83 L104.08,534.55 L107.22,533.24 L110.35,531.91 L113.47,530.56 L116.57,529.18 L119.67,527.78 L122.75,526.36 L125.83,524.91 L128.89,523.45 L131.95,521.96 L134.99,520.45 L138.02,518.92 L141.05,517.37 L144.06,515.80 L147.06,514.21 L150.06,512.60 L153.04,510.97 L156.02,509.32 L158.98,507.66 L161.94,505.98 L164.89,504.28 L167.83,502.57 L170.76,500.84 L173.68,499.09 L176.59,497.33 L179.49,495.55 L182.39,493.76 L185.27,491.96 L188.15,490.14 L191.02,488.30 L193.88,486.46 L196.74,484.60 L199.58,482.73 L202.42,480.85 L205.25,478.95 L208.08,477.05 L210.89,475.13 L213.70,473.20 L216.50,471.26 L219.30,469.31 L222.08,467.35 L224.86,465.38 L227.64,463.40 L230.40,461.41 L233.16,459.41 L235.92,457.40 L238.67,455.39 L241.41,453.36 L244.14,451.33 L246.87,449.28 L249.59,447.23 L252.31,445.18 L255.02,443.11 L257.73,441.04 L260.43,438.96 L263.12,436.87 L265.81,434.78 L268.50,432.68 L271.17,430.57 L273.85,428.46 L276.52,426.34 L279.18,424.21 L281.84,422.08 L284.50,419.94 L287.15,417.80 L289.79,415.65 L292.44,413.50 L295.07,411.34 L297.71,409.18 L300.34,407.02 L302.96,404.85 L305.59,402.67 L308.21,400.50 L310.82,398.32 L313.43,396.13 L316.04,393.94 L318.65,391.75 L321.25,389.56 L323.85,387.36 L326.44,385.16 L329.04,382.96 L331.63,380.76 L334.22,378.56 L336.80,376.35 L339.39,374.14 L341.97,371.93 L344.55,369.72 L347.12,367.51 L349.70,365.30" stroke="#000" stroke-width="1.75" fill="none" stroke-linejoin="round"/>
<path d="M68.80,547.20 L72.05,546.40 L75.30,545.55 L78.52,544.67 L81.73,543.74 L84.93,542.78 L88.12,541.78 L91.29,540.75 L94.45,539.68 L97.59,538.57 L100.72,537.44 L103.84,536.27 L106.95,535.07 L110.05,533.84 L113.13,532.58 L116.20,531.30 L119.26,529.98 L122.30,528.64 L125.34,527.28 L128.36,525.89 L131.38,524.48 L134.38,523.05 L137.37,521.59 L140.35,520.12 L143.32,518.63 L146.28,517.12 L149.23,515.59 L152.17,514.05 L155.10,512.49 L158.03,510.91 L160.94,509.32 L163.84,507.72 L166.73,506.10 L169.62,504.47 L172.50,502.83 L175.36,501.17 L178.22,499.50 L181.08,497.82 L183.92,496.12 L186.76,494.41 L189.59,492.69 L192.41,490.96 L195.22,489.22 L198.03,487.47 L200.83,485.70 L203.62,483.93 L206.41,482.14 L209.19,480.34 L211.97,478.54 L214.74,476.72 L217.50,474.89 L220.26,473.05 L223.01,471.19 L225.76,469.33 L228.50,467.46 L231.24,465.58 L233.98,463.68 L236.70,461.78 L239.43,459.87 L242.15,457.95 L244.87,456.02 L247.58,454.08 L250.29,452.14 L253.00,450.19 L255.70,448.23 L258.40,446.27 L261.10,444.30 L263.79,442.33 L266.48,440.35 L269.17,438.37 L271.86,436.38 L274.55,434.40 L277.23,432.41 L279.91,430.41 L282.59,428.42 L285.27,426.42 L287.95,424.43 L290.63,422.43 L293.31,420.44 L295.98,418.45 L298.66,416.45 L301.34,414.46 L304.01,412.47 L306.69,410.49 L309.37,408.51 L312.05,406.53 L314.72,404.55 L317.40,402.58 L320.08,400.62 L322.77,398.66 L325.45,396.71 L328.14,394.76 L330.82,392.83 L333.51,390.90 L336.20,388.97 L338.90,387.06 L341.59,385.15 L344.29,383.26 L346.99,381.37 L349.70,379.50" stroke="#000" stroke-width="1.75" fill="none" stroke-linejoin="round"/>
<path d="M68.80,547.20 L72.05,546.44 L75.28,545.66 L78.50,544.84 L81.71,543.99 L84.89,543.11 L88.07,542.21 L91.23,541.28 L94.37,540.31 L97.51,539.32 L100.62,538.31 L103.73,537.27 L106.82,536.20 L109.90,535.10 L112.96,533.98 L116.01,532.83 L119.05,531.66 L122.08,530.47 L125.10,529.25 L128.10,528.01 L131.09,526.74 L134.08,525.46 L137.05,524.15 L140.00,522.82 L142.95,521.46 L145.89,520.09 L148.82,518.69 L151.74,517.28 L154.64,515.84 L157.54,514.39 L160.43,512.92 L163.31,511.43 L166.18,509.92 L169.04,508.39 L171.90,506.84 L174.74,505.28 L177.58,503.71 L180.41,502.11 L183.23,500.50 L186.05,498.88 L188.85,497.24 L191.65,495.58 L194.45,493.91 L197.23,492.23 L200.02,490.54 L202.79,488.83 L205.56,487.11 L208.32,485.38 L211.08,483.63 L213.83,481.88 L216.58,480.11 L219.32,478.34 L222.06,476.55 L224.80,474.76 L227.53,472.95 L230.25,471.14 L232.97,469.32 L235.69,467.49 L238.41,465.65 L241.12,463.81 L243.83,461.96 L246.54,460.10 L249.25,458.24 L251.95,456.38 L254.65,454.51 L257.35,452.64 L260.05,450.77 L262.74,448.89 L265.44,447.01 L268.13,445.13 L270.83,443.25 L273.52,441.37 L276.22,439.49 L278.91,437.62 L281.60,435.74 L284.30,433.87 L287.00,432.00 L289.69,430.13 L292.39,428.26 L295.09,426.41 L297.79,424.55 L300.49,422.70 L303.20,420.86 L305.90,419.02 L308.61,417.19 L311.32,415.37 L314.04,413.56 L316.76,411.76 L319.48,409.96 L322.20,408.18 L324.93,406.40 L327.66,404.64 L330.40,402.89 L333.14,401.15 L335.89,399.42 L338.64,397.71 L341.40,396.01 L344.16,394.32 L346.93,392.65 L349.70,391.00" stroke="#000" stroke-width="1.75" fill="none" stroke-linejoin="round"/>
<path d="M68.80,547.20 L71.99,546.59 L75.17,545.93 L78.33,545.25 L81.48,544.52 L84.62,543.76 L87.74,542.97 L90.85,542.14 L93.94,541.29 L97.03,540.39 L100.10,539.47 L103.16,538.52 L106.20,537.53 L109.24,536.52 L112.26,535.48 L115.27,534.41 L118.27,533.32 L121.26,532.19 L124.24,531.05 L127.21,529.87 L130.16,528.68 L133.11,527.46 L136.05,526.22 L138.98,524.95 L141.90,523.67 L144.80,522.36 L147.70,521.03 L150.60,519.69 L153.48,518.33 L156.35,516.94 L159.22,515.55 L162.08,514.13 L164.93,512.70 L167.77,511.26 L170.61,509.80 L173.44,508.33 L176.26,506.85 L179.07,505.35 L181.88,503.84 L184.68,502.33 L187.48,500.80 L190.27,499.26 L193.06,497.72 L195.84,496.17 L198.61,494.61 L201.38,493.04 L204.15,491.46 L206.91,489.87 L209.66,488.27 L212.41,486.67 L215.16,485.05 L217.91,483.42 L220.65,481.78 L223.39,480.13 L226.12,478.47 L228.86,476.80 L231.59,475.12 L234.32,473.42 L237.04,471.72 L239.76,470.01 L242.49,468.29 L245.21,466.56 L247.93,464.83 L250.65,463.10 L253.36,461.36 L256.08,459.62 L258.80,457.89 L261.52,456.15 L264.23,454.42 L266.95,452.70 L269.67,450.97 L272.39,449.26 L275.11,447.55 L277.83,445.85 L280.55,444.17 L283.27,442.49 L286.00,440.83 L288.73,439.18 L291.46,437.55 L294.19,435.93 L296.93,434.33 L299.66,432.73 L302.41,431.15 L305.15,429.58 L307.90,428.02 L310.65,426.46 L313.41,424.90 L316.17,423.35 L318.93,421.80 L321.70,420.25 L324.48,418.70 L327.25,417.14 L330.04,415.58 L332.83,414.02 L335.63,412.44 L338.43,410.86 L341.24,409.26 L344.05,407.66 L346.87,406.04 L349.70,404.40" stroke="#000" stroke-width="1.75" fill="none" stroke-linejoin="round"/>
<path d="M68.80,547.20 L71.92,546.71 L75.04,546.19 L78.15,545.65 L81.25,545.07 L84.35,544.48 L87.44,543.85 L90.52,543.20 L93.60,542.53 L96.67,541.83 L99.73,541.11 L102.79,540.36 L105.83,539.59 L108.88,538.79 L111.91,537.98 L114.94,537.14 L117.96,536.27 L120.98,535.39 L123.99,534.48 L126.99,533.55 L129.99,532.61 L132.98,531.64 L135.96,530.65 L138.94,529.64 L141.91,528.61 L144.88,527.56 L147.84,526.49 L150.79,525.41 L153.74,524.30 L156.68,523.18 L159.62,522.04 L162.55,520.89 L165.47,519.71 L168.39,518.52 L171.30,517.32 L174.20,516.09 L177.10,514.86 L180.00,513.60 L182.89,512.34 L185.77,511.05 L188.65,509.76 L191.52,508.45 L194.38,507.12 L197.24,505.79 L200.10,504.44 L202.95,503.08 L205.79,501.70 L208.63,500.32 L211.46,498.92 L214.29,497.51 L217.11,496.10 L219.93,494.67 L222.74,493.23 L225.55,491.78 L228.35,490.32 L231.15,488.86 L233.94,487.38 L236.73,485.90 L239.51,484.41 L242.29,482.90 L245.06,481.40 L247.83,479.88 L250.59,478.35 L253.34,476.82 L256.10,475.28 L258.84,473.73 L261.59,472.17 L264.33,470.61 L267.06,469.03 L269.79,467.45 L272.51,465.87 L275.23,464.27 L277.95,462.67 L280.66,461.06 L283.37,459.44 L286.07,457.82 L288.77,456.19 L291.46,454.55 L294.15,452.91 L296.83,451.26 L299.51,449.60 L302.19,447.94 L304.86,446.27 L307.53,444.59 L310.20,442.91 L312.86,441.22 L315.51,439.53 L318.17,437.83 L320.81,436.12 L323.46,434.41 L326.10,432.69 L328.74,430.97 L331.37,429.24 L334.00,427.51 L336.63,425.77 L339.25,424.03 L341.87,422.28 L344.48,420.52 L347.09,418.76 L349.70,417.00" stroke="#000" stroke-width="1.75" fill="none" stroke-linejoin="round"/>
<rect x="350.50" y="354.40" width="35.20" height="66.40" fill="#fff" />
<text x="351.00" y="362.10" font-size="10.0" font-style="italic" fill="#000" stroke="#000" stroke-width="0.25">θ</text>
<text x="356.90" y="362.00" font-size="9.6" fill="#000" stroke="#000" stroke-width="0.3" textLength="7.7" lengthAdjust="spacingAndGlyphs">=</text>
<text x="365.10" y="362.10" font-size="9.6" fill="#000" stroke="#000" stroke-width="0.3" textLength="14.85" lengthAdjust="spacingAndGlyphs">180</text>
<text x="380.15" y="359.00" font-size="5.6" font-weight="bold" fill="#000" stroke="#000" stroke-width="0.4">°</text>
<text x="351.00" y="371.10" font-size="10.0" font-style="italic" fill="#000" stroke="#000" stroke-width="0.25">θ</text>
<text x="356.90" y="371.00" font-size="9.6" fill="#000" stroke="#000" stroke-width="0.3" textLength="7.7" lengthAdjust="spacingAndGlyphs">=</text>
<text x="365.10" y="371.10" font-size="9.6" fill="#000" stroke="#000" stroke-width="0.3" textLength="14.85" lengthAdjust="spacingAndGlyphs">150</text>
<text x="380.15" y="368.00" font-size="5.6" font-weight="bold" fill="#000" stroke="#000" stroke-width="0.4">°</text>
<text x="351.00" y="382.40" font-size="10.0" font-style="italic" fill="#000" stroke="#000" stroke-width="0.25">θ</text>
<text x="356.90" y="382.30" font-size="9.6" fill="#000" stroke="#000" stroke-width="0.3" textLength="7.7" lengthAdjust="spacingAndGlyphs">=</text>
<text x="365.10" y="382.40" font-size="9.6" fill="#000" stroke="#000" stroke-width="0.3" textLength="14.85" lengthAdjust="spacingAndGlyphs">120</text>
<text x="380.15" y="379.30" font-size="5.6" font-weight="bold" fill="#000" stroke="#000" stroke-width="0.4">°</text>
<text x="351.00" y="394.20" font-size="10.0" font-style="italic" fill="#000" stroke="#000" stroke-width="0.25">θ</text>
<text x="356.90" y="394.10" font-size="9.6" fill="#000" stroke="#000" stroke-width="0.3" textLength="7.7" lengthAdjust="spacingAndGlyphs">=</text>
<text x="365.10" y="394.20" font-size="9.6" fill="#000" stroke="#000" stroke-width="0.3" textLength="9.90" lengthAdjust="spacingAndGlyphs">90</text>
<text x="375.20" y="391.10" font-size="5.6" font-weight="bold" fill="#000" stroke="#000" stroke-width="0.4">°</text>
<text x="351.00" y="408.00" font-size="10.0" font-style="italic" fill="#000" stroke="#000" stroke-width="0.25">θ</text>
<text x="356.90" y="407.90" font-size="9.6" fill="#000" stroke="#000" stroke-width="0.3" textLength="7.7" lengthAdjust="spacingAndGlyphs">=</text>
<text x="365.10" y="408.00" font-size="9.6" fill="#000" stroke="#000" stroke-width="0.3" textLength="9.90" lengthAdjust="spacingAndGlyphs">60</text>
<text x="375.20" y="404.90" font-size="5.6" font-weight="bold" fill="#000" stroke="#000" stroke-width="0.4">°</text>
<text x="351.00" y="420.30" font-size="10.0" font-style="italic" fill="#000" stroke="#000" stroke-width="0.25">θ</text>
<text x="356.90" y="420.20" font-size="9.6" fill="#000" stroke="#000" stroke-width="0.3" textLength="7.7" lengthAdjust="spacingAndGlyphs">=</text>
<text x="365.10" y="420.30" font-size="9.6" fill="#000" stroke="#000" stroke-width="0.3" textLength="9.90" lengthAdjust="spacingAndGlyphs">30</text>
<text x="375.20" y="417.20" font-size="5.6" font-weight="bold" fill="#000" stroke="#000" stroke-width="0.4">°</text>
<clipPath id="hc1"><path d="M115.40,375.40 L115.40,355.00 C117.00,353.00 119.60,352.00 121.60,352.20 C124.60,352.50 128.00,355.80 130.60,359.80 C133.60,364.40 136.00,369.80 138.00,375.40 Z"/></clipPath>
<path d="M115.40,375.40 L115.40,355.00 C117.00,353.00 119.60,352.00 121.60,352.20 C124.60,352.50 128.00,355.80 130.60,359.80 C133.60,364.40 136.00,369.80 138.00,375.40 Z" fill="#fff" stroke="none"/>
<g clip-path="url(#hc1)" stroke="#000" stroke-width="1.0">
<line x1="85.40" y1="376.40" x2="111.40" y2="350.40"/>
<line x1="88.60" y1="376.40" x2="114.60" y2="350.40"/>
<line x1="91.80" y1="376.40" x2="117.80" y2="350.40"/>
<line x1="95.00" y1="376.40" x2="121.00" y2="350.40"/>
<line x1="98.20" y1="376.40" x2="124.20" y2="350.40"/>
<line x1="101.40" y1="376.40" x2="127.40" y2="350.40"/>
<line x1="104.60" y1="376.40" x2="130.60" y2="350.40"/>
<line x1="107.80" y1="376.40" x2="133.80" y2="350.40"/>
<line x1="111.00" y1="376.40" x2="137.00" y2="350.40"/>
<line x1="114.20" y1="376.40" x2="140.20" y2="350.40"/>
<line x1="117.40" y1="376.40" x2="143.40" y2="350.40"/>
<line x1="120.60" y1="376.40" x2="146.60" y2="350.40"/>
<line x1="123.80" y1="376.40" x2="149.80" y2="350.40"/>
<line x1="127.00" y1="376.40" x2="153.00" y2="350.40"/>
<line x1="130.20" y1="376.40" x2="156.20" y2="350.40"/>
<line x1="133.40" y1="376.40" x2="159.40" y2="350.40"/>
<line x1="136.60" y1="376.40" x2="162.60" y2="350.40"/>
<line x1="139.80" y1="376.40" x2="165.80" y2="350.40"/>
<line x1="143.00" y1="376.40" x2="169.00" y2="350.40"/>
<line x1="146.20" y1="376.40" x2="172.20" y2="350.40"/>
<line x1="149.40" y1="376.40" x2="175.40" y2="350.40"/>
<line x1="152.60" y1="376.40" x2="178.60" y2="350.40"/>
</g>
<path d="M115.40,375.40 L115.40,355.00 C117.00,353.00 119.60,352.00 121.60,352.20 C124.60,352.50 128.00,355.80 130.60,359.80 C133.60,364.40 136.00,369.80 138.00,375.40 Z" fill="none" stroke="#000" stroke-width="1.2"/>
<line x1="104.00" y1="375.40" x2="172.20" y2="375.40" stroke="#000" stroke-width="1.0" />
<line x1="104.40" y1="375.40" x2="104.40" y2="397.60" stroke="#000" stroke-width="1.0" />
<line x1="171.80" y1="375.40" x2="171.80" y2="397.60" stroke="#000" stroke-width="1.0" />
<line x1="104.40" y1="395.40" x2="131.00" y2="395.40" stroke="#000" stroke-width="1.0" />
<line x1="146.00" y1="395.40" x2="171.80" y2="395.40" stroke="#000" stroke-width="1.0" />
<line x1="115.40" y1="375.40" x2="115.40" y2="386.60" stroke="#000" stroke-width="1.0" />
<line x1="138.00" y1="375.40" x2="138.00" y2="386.60" stroke="#000" stroke-width="1.0" />
<line x1="115.40" y1="385.60" x2="124.40" y2="385.60" stroke="#000" stroke-width="1.0" />
<line x1="128.60" y1="385.60" x2="138.00" y2="385.60" stroke="#000" stroke-width="1.0" />
<path d="M105.00,373.80 C107.80,368.40 111.40,360.90 114.80,356.00" fill="none" stroke="#000" stroke-width="1.3" stroke-dasharray="1.3 2.3"/>
<circle cx="100.30" cy="375.70" r="1.9" fill="#fff" stroke="#000" stroke-width="1.15"/>
<text x="140.40" y="372.50" font-size="7.6" font-style="italic" text-anchor="start" fill="#000" stroke="#000" stroke-width="0.2">π</text>
<text x="167.70" y="372.80" font-size="7.9" text-anchor="start" fill="#000" stroke="#000" stroke-width="0.2">2</text>
<text x="173.60" y="372.50" font-size="7.6" font-style="italic" text-anchor="start" fill="#000" stroke="#000" stroke-width="0.2">π</text>
<text x="138.50" y="398.30" font-size="8.6" text-anchor="middle" fill="#000" stroke="#000" stroke-width="0.4" textLength="14.8" lengthAdjust="spacingAndGlyphs">360°</text>
<text x="126.80" y="384.10" font-size="6.6" font-style="italic" text-anchor="middle" fill="#000" stroke="#000" stroke-width="0.2">θ</text>
<text x="98.10" y="413.60" font-size="9.0" font-style="italic" text-anchor="start" fill="#000" stroke="#000" stroke-width="0.2">θ</text>
<text x="105.00" y="413.60" font-size="8.6" text-anchor="start" fill="#000" stroke="#000" stroke-width="0.45">:</text>
<text x="110.70" y="413.60" font-size="8.6" text-anchor="start" fill="#000" stroke="#000" stroke-width="0.45" textLength="65.5" lengthAdjust="spacingAndGlyphs">Conduction Angle</text>
<text x="68.30" y="313.30" font-size="16.2" font-weight="bold" text-anchor="start" fill="#000">On State Current vs.</text>
<text x="68.30" y="330.30" font-size="16.2" font-weight="bold" text-anchor="start" fill="#000">Maximum Power Dissipation</text>
<text x="238.90" y="577.40" font-size="13" font-weight="bold" text-anchor="middle" fill="#000" textLength="159.6" lengthAdjust="spacingAndGlyphs">RMS On-State Current (A)</text>
<text x="41.00" y="445.00" font-size="13" font-weight="bold" text-anchor="middle" fill="#000" transform="rotate(-90 41.00 445.00)">Power Dissipation (W)</text>
<text x="70.20" y="561.60" font-size="12" text-anchor="middle" fill="#000" stroke="#000" stroke-width="0.2">0</text>
<text x="109.80" y="560.50" font-size="12" text-anchor="middle" fill="#000" stroke="#000" stroke-width="0.2">5</text>
<text x="150.20" y="562.10" font-size="12" text-anchor="middle" fill="#000" stroke="#000" stroke-width="0.2">10</text>
<text x="190.40" y="560.20" font-size="12" text-anchor="middle" fill="#000" stroke="#000" stroke-width="0.2">15</text>
<text x="229.00" y="560.20" font-size="12" text-anchor="middle" fill="#000" stroke="#000" stroke-width="0.2">20</text>
<text x="269.20" y="562.00" font-size="12" text-anchor="middle" fill="#000" stroke="#000" stroke-width="0.2">25</text>
<text x="309.00" y="561.50" font-size="12" text-anchor="middle" fill="#000" stroke="#000" stroke-width="0.2">30</text>
<text x="348.70" y="562.00" font-size="12" text-anchor="middle" fill="#000" stroke="#000" stroke-width="0.2">35</text>
<text x="389.00" y="562.00" font-size="12" text-anchor="middle" fill="#000" stroke="#000" stroke-width="0.2">40</text>
<text x="63.50" y="339.30" font-size="12" text-anchor="end" fill="#000" stroke="#000" stroke-width="0.2">50</text>
<text x="63.50" y="383.30" font-size="12" text-anchor="end" fill="#000" stroke="#000" stroke-width="0.2">40</text>
<text x="63.50" y="424.90" font-size="12" text-anchor="end" fill="#000" stroke="#000" stroke-width="0.2">30</text>
<text x="63.50" y="467.50" font-size="12" text-anchor="end" fill="#000" stroke="#000" stroke-width="0.2">20</text>
<text x="63.50" y="509.50" font-size="12" text-anchor="end" fill="#000" stroke="#000" stroke-width="0.2">10</text>
<text x="63.50" y="552.60" font-size="12" text-anchor="end" fill="#000" stroke="#000" stroke-width="0.2">0</text>
<line x1="495.10" y1="333.50" x2="495.10" y2="547.10" stroke="#000" stroke-width="1.0" />
<line x1="515.60" y1="333.50" x2="515.60" y2="547.10" stroke="#000" stroke-width="1.0" />
<line x1="535.10" y1="333.50" x2="535.10" y2="446.50" stroke="#000" stroke-width="1.0" />
<line x1="535.10" y1="517.10" x2="535.10" y2="547.10" stroke="#000" stroke-width="1.0" />
<line x1="554.60" y1="333.50" x2="554.60" y2="446.50" stroke="#000" stroke-width="1.0" />
<line x1="554.60" y1="517.10" x2="554.60" y2="547.10" stroke="#000" stroke-width="1.0" />
<line x1="575.20" y1="333.50" x2="575.20" y2="446.50" stroke="#000" stroke-width="1.0" />
<line x1="575.20" y1="517.10" x2="575.20" y2="547.10" stroke="#000" stroke-width="1.0" />
<line x1="594.40" y1="333.50" x2="594.40" y2="446.50" stroke="#000" stroke-width="1.0" />
<line x1="594.40" y1="517.10" x2="594.40" y2="547.10" stroke="#000" stroke-width="1.0" />
<line x1="614.70" y1="333.50" x2="614.70" y2="547.10" stroke="#000" stroke-width="1.0" />
<line x1="634.30" y1="333.50" x2="634.30" y2="547.10" stroke="#000" stroke-width="1.0" />
<line x1="654.00" y1="333.50" x2="654.00" y2="547.10" stroke="#000" stroke-width="1.0" />
<line x1="674.10" y1="333.50" x2="674.10" y2="547.10" stroke="#000" stroke-width="1.0" />
<line x1="693.80" y1="333.50" x2="693.80" y2="547.10" stroke="#000" stroke-width="1.0" />
<line x1="713.60" y1="333.50" x2="713.60" y2="547.10" stroke="#000" stroke-width="1.0" />
<line x1="733.60" y1="333.50" x2="733.60" y2="547.10" stroke="#000" stroke-width="1.0" />
<line x1="753.70" y1="333.50" x2="753.70" y2="547.10" stroke="#000" stroke-width="1.0" />
<line x1="773.40" y1="333.50" x2="773.40" y2="547.10" stroke="#000" stroke-width="1.0" />
<line x1="793.00" y1="333.50" x2="793.00" y2="465.50" stroke="#000" stroke-width="1.0" />
<line x1="793.00" y1="537.50" x2="793.00" y2="547.10" stroke="#000" stroke-width="1.0" />
<line x1="815.70" y1="333.50" x2="815.70" y2="547.10" stroke="#000" stroke-width="1.0" />
<line x1="495.10" y1="333.50" x2="815.70" y2="333.50" stroke="#000" stroke-width="1.0" />
<line x1="495.10" y1="361.10" x2="815.70" y2="361.10" stroke="#000" stroke-width="1.0" />
<line x1="495.10" y1="387.10" x2="815.70" y2="387.10" stroke="#000" stroke-width="1.0" />
<line x1="495.10" y1="412.90" x2="815.70" y2="412.90" stroke="#000" stroke-width="1.0" />
<line x1="495.10" y1="438.70" x2="815.70" y2="438.70" stroke="#000" stroke-width="1.0" />
<line x1="495.10" y1="465.50" x2="522.30" y2="465.50" stroke="#000" stroke-width="1.0" />
<line x1="606.00" y1="465.50" x2="815.70" y2="465.50" stroke="#000" stroke-width="1.0" />
<line x1="495.10" y1="491.60" x2="522.30" y2="491.60" stroke="#000" stroke-width="1.0" />
<line x1="606.00" y1="491.60" x2="815.70" y2="491.60" stroke="#000" stroke-width="1.0" />
<line x1="495.10" y1="517.10" x2="815.70" y2="517.10" stroke="#000" stroke-width="1.0" />
<line x1="495.10" y1="547.10" x2="815.70" y2="547.10" stroke="#000" stroke-width="1.0" />
<path d="M495.10,349.00 L498.19,349.23 L501.28,349.51 L504.36,349.81 L507.43,350.15 L510.50,350.52 L513.55,350.92 L516.60,351.35 L519.65,351.82 L522.68,352.31 L525.71,352.84 L528.73,353.40 L531.75,353.98 L534.76,354.59 L537.76,355.24 L540.75,355.90 L543.74,356.60 L546.72,357.32 L549.70,358.07 L552.66,358.84 L555.63,359.64 L558.58,360.47 L561.53,361.31 L564.47,362.18 L567.41,363.08 L570.34,363.99 L573.26,364.93 L576.18,365.89 L579.09,366.86 L582.00,367.86 L584.90,368.88 L587.79,369.92 L590.68,370.98 L593.56,372.05 L596.44,373.14 L599.31,374.25 L602.17,375.38 L605.03,376.52 L607.89,377.68 L610.73,378.85 L613.58,380.03 L616.41,381.23 L619.25,382.45 L622.07,383.68 L624.89,384.92 L627.71,386.17 L630.52,387.44 L633.33,388.71 L636.13,390.00 L638.92,391.31 L641.71,392.62 L644.50,393.95 L647.28,395.28 L650.06,396.63 L652.83,397.99 L655.59,399.36 L658.35,400.74 L661.11,402.12 L663.86,403.52 L666.61,404.93 L669.36,406.35 L672.09,407.77 L674.83,409.21 L677.56,410.65 L680.29,412.11 L683.01,413.57 L685.73,415.03 L688.44,416.51 L691.15,417.99 L693.85,419.48 L696.56,420.98 L699.25,422.48 L701.95,423.99 L704.64,425.51 L707.32,427.03 L710.01,428.56 L712.68,430.09 L715.36,431.63 L718.03,433.17 L720.70,434.72 L723.36,436.27 L726.02,437.83 L728.68,439.39 L731.34,440.95 L733.99,442.52 L736.64,444.09 L739.28,445.67 L741.92,447.24 L744.56,448.82 L747.20,450.41 L749.83,451.99 L752.46,453.58 L755.09,455.16 L757.71,456.75 L760.33,458.34 L762.95,459.93 L765.57,461.52 L768.18,463.12 L770.79,464.71 L773.40,466.30" stroke="#000" stroke-width="1.75" fill="none" stroke-linejoin="round"/>
<path d="M495.10,349.00 L498.24,349.36 L501.37,349.77 L504.49,350.20 L507.60,350.68 L510.71,351.19 L513.80,351.73 L516.89,352.31 L519.97,352.92 L523.03,353.56 L526.10,354.24 L529.15,354.95 L532.19,355.68 L535.23,356.45 L538.26,357.25 L541.28,358.08 L544.29,358.93 L547.29,359.81 L550.29,360.72 L553.28,361.66 L556.26,362.62 L559.23,363.61 L562.20,364.62 L565.16,365.65 L568.11,366.71 L571.05,367.79 L573.99,368.90 L576.92,370.02 L579.84,371.17 L582.75,372.33 L585.66,373.52 L588.56,374.72 L591.45,375.95 L594.34,377.19 L597.22,378.45 L600.10,379.72 L602.96,381.01 L605.82,382.32 L608.68,383.64 L611.53,384.97 L614.37,386.32 L617.20,387.68 L620.03,389.05 L622.86,390.43 L625.67,391.83 L628.48,393.24 L631.29,394.66 L634.09,396.09 L636.88,397.54 L639.67,398.99 L642.45,400.46 L645.23,401.93 L648.00,403.42 L650.77,404.92 L653.53,406.43 L656.28,407.94 L659.04,409.47 L661.78,411.00 L664.52,412.55 L667.26,414.10 L669.99,415.67 L672.71,417.24 L675.43,418.82 L678.15,420.41 L680.86,422.00 L683.57,423.61 L686.27,425.22 L688.97,426.84 L691.66,428.47 L694.35,430.10 L697.04,431.74 L699.72,433.39 L702.40,435.04 L705.07,436.70 L707.74,438.37 L710.40,440.04 L713.06,441.71 L715.72,443.40 L718.38,445.08 L721.03,446.77 L723.67,448.47 L726.32,450.17 L728.96,451.88 L731.60,453.59 L734.23,455.30 L736.86,457.02 L739.49,458.74 L742.11,460.46 L744.73,462.19 L747.35,463.92 L749.97,465.66 L752.58,467.39 L755.19,469.13 L757.80,470.87 L760.41,472.61 L763.01,474.35 L765.61,476.10 L768.21,477.84 L770.81,479.59 L773.40,481.34" stroke="#000" stroke-width="1.75" fill="none" stroke-linejoin="round"/>
<path d="M495.10,349.00 L498.27,349.44 L501.43,349.93 L504.58,350.45 L507.72,351.02 L510.85,351.62 L513.97,352.26 L517.08,352.93 L520.18,353.64 L523.28,354.39 L526.36,355.17 L529.43,355.98 L532.50,356.83 L535.55,357.71 L538.60,358.62 L541.63,359.56 L544.66,360.53 L547.68,361.53 L550.69,362.56 L553.69,363.61 L556.69,364.70 L559.67,365.81 L562.65,366.94 L565.62,368.10 L568.58,369.28 L571.53,370.49 L574.48,371.71 L577.41,372.96 L580.34,374.23 L583.26,375.52 L586.17,376.83 L589.08,378.16 L591.98,379.51 L594.87,380.87 L597.75,382.25 L600.63,383.65 L603.50,385.06 L606.36,386.48 L609.21,387.92 L612.06,389.37 L614.90,390.84 L617.73,392.31 L620.56,393.79 L623.38,395.29 L626.20,396.80 L629.00,398.32 L631.80,399.84 L634.60,401.38 L637.39,402.93 L640.17,404.49 L642.95,406.06 L645.72,407.64 L648.48,409.23 L651.24,410.82 L654.00,412.43 L656.75,414.05 L659.49,415.67 L662.23,417.31 L664.96,418.95 L667.68,420.60 L670.40,422.26 L673.12,423.93 L675.83,425.60 L678.54,427.29 L681.24,428.98 L683.94,430.68 L686.63,432.38 L689.32,434.10 L692.00,435.82 L694.68,437.55 L697.35,439.28 L700.02,441.03 L702.69,442.77 L705.35,444.53 L708.01,446.29 L710.66,448.06 L713.31,449.83 L715.96,451.61 L718.60,453.39 L721.24,455.19 L723.88,456.98 L726.51,458.78 L729.14,460.59 L731.76,462.40 L734.38,464.21 L737.00,466.04 L739.62,467.86 L742.23,469.69 L744.84,471.52 L747.45,473.36 L750.06,475.20 L752.66,477.05 L755.26,478.90 L757.86,480.75 L760.45,482.60 L763.05,484.46 L765.64,486.32 L768.23,488.19 L770.81,490.05 L773.40,491.92" stroke="#000" stroke-width="1.75" fill="none" stroke-linejoin="round"/>
<path d="M495.10,349.00 L498.30,349.54 L501.48,350.12 L504.66,350.74 L507.82,351.40 L510.98,352.11 L514.12,352.85 L517.25,353.63 L520.37,354.44 L523.49,355.29 L526.59,356.18 L529.68,357.10 L532.76,358.05 L535.83,359.04 L538.89,360.05 L541.94,361.10 L544.99,362.17 L548.02,363.28 L551.04,364.41 L554.06,365.57 L557.06,366.75 L560.06,367.96 L563.04,369.19 L566.02,370.44 L568.99,371.72 L571.95,373.02 L574.90,374.34 L577.84,375.68 L580.78,377.04 L583.70,378.42 L586.62,379.82 L589.53,381.24 L592.43,382.68 L595.32,384.13 L598.21,385.60 L601.08,387.09 L603.95,388.59 L606.82,390.10 L609.67,391.63 L612.52,393.18 L615.36,394.73 L618.19,396.30 L621.01,397.88 L623.83,399.47 L626.64,401.07 L629.45,402.69 L632.25,404.31 L635.04,405.95 L637.82,407.60 L640.60,409.26 L643.37,410.92 L646.14,412.60 L648.90,414.29 L651.65,415.99 L654.40,417.70 L657.14,419.42 L659.87,421.14 L662.60,422.88 L665.33,424.62 L668.05,426.38 L670.76,428.14 L673.47,429.91 L676.17,431.69 L678.87,433.47 L681.56,435.27 L684.25,437.07 L686.93,438.88 L689.61,440.69 L692.28,442.52 L694.95,444.35 L697.62,446.18 L700.28,448.02 L702.93,449.87 L705.59,451.73 L708.23,453.59 L710.88,455.45 L713.52,457.32 L716.15,459.20 L718.79,461.08 L721.42,462.97 L724.04,464.86 L726.66,466.75 L729.28,468.65 L731.90,470.56 L734.51,472.46 L737.12,474.37 L739.73,476.29 L742.33,478.20 L744.93,480.12 L747.53,482.05 L750.13,483.97 L752.72,485.90 L755.32,487.83 L757.90,489.76 L760.49,491.70 L763.08,493.63 L765.66,495.57 L768.24,497.51 L770.82,499.45 L773.40,501.39" stroke="#000" stroke-width="1.75" fill="none" stroke-linejoin="round"/>
<path d="M495.10,349.00 L498.33,349.65 L501.56,350.36 L504.77,351.10 L507.96,351.90 L511.15,352.73 L514.32,353.61 L517.49,354.52 L520.64,355.48 L523.78,356.47 L526.90,357.51 L530.02,358.57 L533.12,359.67 L536.22,360.81 L539.30,361.98 L542.37,363.17 L545.43,364.40 L548.48,365.66 L551.52,366.94 L554.55,368.25 L557.57,369.59 L560.58,370.95 L563.58,372.33 L566.57,373.74 L569.55,375.16 L572.52,376.61 L575.48,378.09 L578.43,379.58 L581.37,381.09 L584.31,382.62 L587.23,384.17 L590.14,385.74 L593.05,387.32 L595.94,388.92 L598.83,390.54 L601.71,392.17 L604.58,393.82 L607.44,395.48 L610.30,397.15 L613.14,398.84 L615.98,400.53 L618.81,402.24 L621.63,403.96 L624.45,405.70 L627.25,407.44 L630.05,409.19 L632.85,410.96 L635.63,412.73 L638.41,414.51 L641.18,416.31 L643.95,418.11 L646.70,419.93 L649.45,421.75 L652.20,423.58 L654.94,425.43 L657.67,427.28 L660.39,429.14 L663.11,431.01 L665.83,432.89 L668.54,434.77 L671.24,436.67 L673.93,438.57 L676.63,440.48 L679.31,442.39 L681.99,444.32 L684.67,446.25 L687.34,448.19 L690.00,450.14 L692.66,452.09 L695.32,454.05 L697.97,456.02 L700.62,457.99 L703.26,459.97 L705.90,461.95 L708.53,463.94 L711.17,465.94 L713.79,467.94 L716.41,469.94 L719.03,471.95 L721.65,473.97 L724.26,475.99 L726.87,478.02 L729.48,480.04 L732.08,482.08 L734.68,484.12 L737.28,486.16 L739.87,488.20 L742.46,490.25 L745.05,492.30 L747.64,494.36 L750.22,496.41 L752.80,498.48 L755.39,500.54 L757.96,502.60 L760.54,504.67 L763.11,506.74 L765.69,508.81 L768.26,510.89 L770.83,512.96 L773.40,515.04" stroke="#000" stroke-width="1.75" fill="none" stroke-linejoin="round"/>
<path d="M495.10,349.00 L498.35,349.72 L501.59,350.48 L504.82,351.29 L508.03,352.15 L511.24,353.06 L514.42,354.00 L517.60,354.99 L520.77,356.02 L523.92,357.09 L527.06,358.20 L530.19,359.34 L533.30,360.52 L536.41,361.73 L539.50,362.98 L542.58,364.25 L545.65,365.56 L548.71,366.89 L551.76,368.26 L554.80,369.64 L557.82,371.06 L560.84,372.49 L563.85,373.95 L566.84,375.44 L569.83,376.94 L572.80,378.47 L575.76,380.02 L578.72,381.59 L581.66,383.17 L584.60,384.78 L587.53,386.40 L590.44,388.04 L593.35,389.70 L596.25,391.38 L599.13,393.07 L602.01,394.77 L604.89,396.49 L607.75,398.23 L610.60,399.97 L613.45,401.73 L616.28,403.50 L619.11,405.28 L621.93,407.07 L624.75,408.87 L627.55,410.69 L630.35,412.51 L633.14,414.35 L635.92,416.19 L638.70,418.04 L641.46,419.91 L644.22,421.78 L646.98,423.67 L649.72,425.56 L652.46,427.46 L655.20,429.37 L657.92,431.29 L660.65,433.22 L663.36,435.16 L666.07,437.11 L668.77,439.06 L671.47,441.02 L674.16,442.99 L676.84,444.97 L679.52,446.95 L682.20,448.95 L684.87,450.95 L687.53,452.95 L690.19,454.97 L692.85,456.99 L695.50,459.01 L698.14,461.04 L700.78,463.08 L703.42,465.13 L706.05,467.18 L708.68,469.24 L711.30,471.30 L713.92,473.37 L716.54,475.44 L719.15,477.52 L721.76,479.60 L724.37,481.69 L726.97,483.78 L729.57,485.87 L732.16,487.97 L734.76,490.08 L737.35,492.18 L739.94,494.30 L742.52,496.41 L745.11,498.53 L747.69,500.65 L750.27,502.77 L752.84,504.90 L755.42,507.03 L757.99,509.16 L760.56,511.30 L763.13,513.44 L765.70,515.57 L768.27,517.71 L770.83,519.86 L773.40,522.00" stroke="#000" stroke-width="1.75" fill="none" stroke-linejoin="round"/>
<rect x="774.20" y="466.00" width="38.00" height="71.00" fill="#fff" />
<text x="776.40" y="474.10" font-size="10.0" font-style="italic" fill="#000" stroke="#000" stroke-width="0.25">θ</text>
<text x="782.30" y="474.00" font-size="9.6" fill="#000" stroke="#000" stroke-width="0.3" textLength="7.7" lengthAdjust="spacingAndGlyphs">=</text>
<text x="790.50" y="474.10" font-size="9.6" fill="#000" stroke="#000" stroke-width="0.3" textLength="9.90" lengthAdjust="spacingAndGlyphs">30</text>
<text x="800.60" y="471.00" font-size="5.6" font-weight="bold" fill="#000" stroke="#000" stroke-width="0.4">°</text>
<text x="776.40" y="485.10" font-size="10.0" font-style="italic" fill="#000" stroke="#000" stroke-width="0.25">θ</text>
<text x="782.30" y="485.00" font-size="9.6" fill="#000" stroke="#000" stroke-width="0.3" textLength="7.7" lengthAdjust="spacingAndGlyphs">=</text>
<text x="790.50" y="485.10" font-size="9.6" fill="#000" stroke="#000" stroke-width="0.3" textLength="9.90" lengthAdjust="spacingAndGlyphs">60</text>
<text x="800.60" y="482.00" font-size="5.6" font-weight="bold" fill="#000" stroke="#000" stroke-width="0.4">°</text>
<text x="776.40" y="497.00" font-size="10.0" font-style="italic" fill="#000" stroke="#000" stroke-width="0.25">θ</text>
<text x="782.30" y="496.90" font-size="9.6" fill="#000" stroke="#000" stroke-width="0.3" textLength="7.7" lengthAdjust="spacingAndGlyphs">=</text>
<text x="790.50" y="497.00" font-size="9.6" fill="#000" stroke="#000" stroke-width="0.3" textLength="9.90" lengthAdjust="spacingAndGlyphs">90</text>
<text x="800.60" y="493.90" font-size="5.6" font-weight="bold" fill="#000" stroke="#000" stroke-width="0.4">°</text>
<text x="776.40" y="508.90" font-size="10.0" font-style="italic" fill="#000" stroke="#000" stroke-width="0.25">θ</text>
<text x="782.30" y="508.80" font-size="9.6" fill="#000" stroke="#000" stroke-width="0.3" textLength="7.7" lengthAdjust="spacingAndGlyphs">=</text>
<text x="790.50" y="508.90" font-size="9.6" fill="#000" stroke="#000" stroke-width="0.3" textLength="14.85" lengthAdjust="spacingAndGlyphs">120</text>
<text x="805.55" y="505.80" font-size="5.6" font-weight="bold" fill="#000" stroke="#000" stroke-width="0.4">°</text>
<text x="776.40" y="519.70" font-size="10.0" font-style="italic" fill="#000" stroke="#000" stroke-width="0.25">θ</text>
<text x="782.30" y="519.60" font-size="9.6" fill="#000" stroke="#000" stroke-width="0.3" textLength="7.7" lengthAdjust="spacingAndGlyphs">=</text>
<text x="790.50" y="519.70" font-size="9.6" fill="#000" stroke="#000" stroke-width="0.3" textLength="14.85" lengthAdjust="spacingAndGlyphs">150</text>
<text x="805.55" y="516.60" font-size="5.6" font-weight="bold" fill="#000" stroke="#000" stroke-width="0.4">°</text>
<text x="776.40" y="531.50" font-size="10.0" font-style="italic" fill="#000" stroke="#000" stroke-width="0.25">θ</text>
<text x="782.30" y="531.40" font-size="9.6" fill="#000" stroke="#000" stroke-width="0.3" textLength="7.7" lengthAdjust="spacingAndGlyphs">=</text>
<text x="790.50" y="531.50" font-size="9.6" fill="#000" stroke="#000" stroke-width="0.3" textLength="14.85" lengthAdjust="spacingAndGlyphs">180</text>
<text x="805.55" y="528.40" font-size="5.6" font-weight="bold" fill="#000" stroke="#000" stroke-width="0.4">°</text>
<clipPath id="hc2"><path d="M542.20,472.50 L542.20,452.10 C543.80,450.10 546.40,449.10 548.40,449.30 C551.40,449.60 554.80,452.90 557.40,456.90 C560.40,461.50 562.80,466.90 564.80,472.50 Z"/></clipPath>
<path d="M542.20,472.50 L542.20,452.10 C543.80,450.10 546.40,449.10 548.40,449.30 C551.40,449.60 554.80,452.90 557.40,456.90 C560.40,461.50 562.80,466.90 564.80,472.50 Z" fill="#fff" stroke="none"/>
<g clip-path="url(#hc2)" stroke="#000" stroke-width="1.0">
<line x1="512.20" y1="473.50" x2="538.20" y2="447.50"/>
<line x1="515.40" y1="473.50" x2="541.40" y2="447.50"/>
<line x1="518.60" y1="473.50" x2="544.60" y2="447.50"/>
<line x1="521.80" y1="473.50" x2="547.80" y2="447.50"/>
<line x1="525.00" y1="473.50" x2="551.00" y2="447.50"/>
<line x1="528.20" y1="473.50" x2="554.20" y2="447.50"/>
<line x1="531.40" y1="473.50" x2="557.40" y2="447.50"/>
<line x1="534.60" y1="473.50" x2="560.60" y2="447.50"/>
<line x1="537.80" y1="473.50" x2="563.80" y2="447.50"/>
<line x1="541.00" y1="473.50" x2="567.00" y2="447.50"/>
<line x1="544.20" y1="473.50" x2="570.20" y2="447.50"/>
<line x1="547.40" y1="473.50" x2="573.40" y2="447.50"/>
<line x1="550.60" y1="473.50" x2="576.60" y2="447.50"/>
<line x1="553.80" y1="473.50" x2="579.80" y2="447.50"/>
<line x1="557.00" y1="473.50" x2="583.00" y2="447.50"/>
<line x1="560.20" y1="473.50" x2="586.20" y2="447.50"/>
<line x1="563.40" y1="473.50" x2="589.40" y2="447.50"/>
<line x1="566.60" y1="473.50" x2="592.60" y2="447.50"/>
<line x1="569.80" y1="473.50" x2="595.80" y2="447.50"/>
<line x1="573.00" y1="473.50" x2="599.00" y2="447.50"/>
<line x1="576.20" y1="473.50" x2="602.20" y2="447.50"/>
<line x1="579.40" y1="473.50" x2="605.40" y2="447.50"/>
</g>
<path d="M542.20,472.50 L542.20,452.10 C543.80,450.10 546.40,449.10 548.40,449.30 C551.40,449.60 554.80,452.90 557.40,456.90 C560.40,461.50 562.80,466.90 564.80,472.50 Z" fill="none" stroke="#000" stroke-width="1.2"/>
<line x1="530.80" y1="472.50" x2="599.00" y2="472.50" stroke="#000" stroke-width="1.0" />
<line x1="531.20" y1="472.50" x2="531.20" y2="494.70" stroke="#000" stroke-width="1.0" />
<line x1="598.60" y1="472.50" x2="598.60" y2="494.70" stroke="#000" stroke-width="1.0" />
<line x1="531.20" y1="492.50" x2="557.80" y2="492.50" stroke="#000" stroke-width="1.0" />
<line x1="572.80" y1="492.50" x2="598.60" y2="492.50" stroke="#000" stroke-width="1.0" />
<line x1="542.20" y1="472.50" x2="542.20" y2="483.70" stroke="#000" stroke-width="1.0" />
<line x1="564.80" y1="472.50" x2="564.80" y2="483.70" stroke="#000" stroke-width="1.0" />
<line x1="542.20" y1="482.70" x2="551.20" y2="482.70" stroke="#000" stroke-width="1.0" />
<line x1="555.40" y1="482.70" x2="564.80" y2="482.70" stroke="#000" stroke-width="1.0" />
<path d="M531.80,470.90 C534.60,465.50 538.20,458.00 541.60,453.10" fill="none" stroke="#000" stroke-width="1.3" stroke-dasharray="1.3 2.3"/>
<circle cx="527.10" cy="472.80" r="1.9" fill="#fff" stroke="#000" stroke-width="1.15"/>
<text x="567.20" y="469.60" font-size="7.6" font-style="italic" text-anchor="start" fill="#000" stroke="#000" stroke-width="0.2">π</text>
<text x="594.50" y="469.90" font-size="7.9" text-anchor="start" fill="#000" stroke="#000" stroke-width="0.2">2</text>
<text x="600.40" y="469.60" font-size="7.6" font-style="italic" text-anchor="start" fill="#000" stroke="#000" stroke-width="0.2">π</text>
<text x="565.30" y="495.40" font-size="8.6" text-anchor="middle" fill="#000" stroke="#000" stroke-width="0.4" textLength="14.8" lengthAdjust="spacingAndGlyphs">360°</text>
<text x="553.60" y="481.20" font-size="6.6" font-style="italic" text-anchor="middle" fill="#000" stroke="#000" stroke-width="0.2">θ</text>
<text x="524.90" y="510.70" font-size="9.0" font-style="italic" text-anchor="start" fill="#000" stroke="#000" stroke-width="0.2">θ</text>
<text x="531.80" y="510.70" font-size="8.6" text-anchor="start" fill="#000" stroke="#000" stroke-width="0.45">:</text>
<text x="537.50" y="510.70" font-size="8.6" text-anchor="start" fill="#000" stroke="#000" stroke-width="0.45" textLength="65.5" lengthAdjust="spacingAndGlyphs">Conduction Angle</text>
<text x="494.60" y="313.00" font-size="16.2" font-weight="bold" text-anchor="start" fill="#000">On State Current vs.</text>
<text x="494.60" y="330.00" font-size="16.2" font-weight="bold" text-anchor="start" fill="#000">Allowable Case Temperature</text>
<text x="659.40" y="576.80" font-size="13" font-weight="bold" text-anchor="middle" fill="#000" textLength="159.2" lengthAdjust="spacingAndGlyphs">RMS On-State Current (A)</text>
<text x="466.4" y="533.6" font-size="13" font-weight="bold" fill="#000" transform="rotate(-90 466.4 533.6)" textLength="189.2" lengthAdjust="spacingAndGlyphs">Allowable Case Temperature (<tspan font-size="8" dy="-3.5">°</tspan><tspan dy="3.5" dx="-1.2">C)</tspan></text>
<text x="495.30" y="561.20" font-size="12" text-anchor="middle" fill="#000" stroke="#000" stroke-width="0.2">0</text>
<text x="535.10" y="561.20" font-size="12" text-anchor="middle" fill="#000" stroke="#000" stroke-width="0.2">5</text>
<text x="574.70" y="561.20" font-size="12" text-anchor="middle" fill="#000" stroke="#000" stroke-width="0.2">10</text>
<text x="614.80" y="561.20" font-size="12" text-anchor="middle" fill="#000" stroke="#000" stroke-width="0.2">15</text>
<text x="654.40" y="561.20" font-size="12" text-anchor="middle" fill="#000" stroke="#000" stroke-width="0.2">20</text>
<text x="693.90" y="561.20" font-size="12" text-anchor="middle" fill="#000" stroke="#000" stroke-width="0.2">25</text>
<text x="734.40" y="561.20" font-size="12" text-anchor="middle" fill="#000" stroke="#000" stroke-width="0.2">30</text>
<text x="773.80" y="561.20" font-size="12" text-anchor="middle" fill="#000" stroke="#000" stroke-width="0.2">35</text>
<text x="814.00" y="561.20" font-size="12" text-anchor="middle" fill="#000" stroke="#000" stroke-width="0.2">40</text>
<text x="489.80" y="340.90" font-size="12" text-anchor="end" fill="#000" stroke="#000" stroke-width="0.2">130</text>
<text x="489.80" y="366.90" font-size="12" text-anchor="end" fill="#000" stroke="#000" stroke-width="0.2">120</text>
<text x="489.80" y="393.50" font-size="12" text-anchor="end" fill="#000" stroke="#000" stroke-width="0.2">110</text>
<text x="489.80" y="419.50" font-size="12" text-anchor="end" fill="#000" stroke="#000" stroke-width="0.2">100</text>
<text x="489.80" y="445.10" font-size="12" text-anchor="end" fill="#000" stroke="#000" stroke-width="0.2">90</text>
<text x="489.80" y="471.90" font-size="12" text-anchor="end" fill="#000" stroke="#000" stroke-width="0.2">80</text>
<text x="489.80" y="497.60" font-size="12" text-anchor="end" fill="#000" stroke="#000" stroke-width="0.2">70</text>
<text x="489.80" y="523.50" font-size="12" text-anchor="end" fill="#000" stroke="#000" stroke-width="0.2">60</text>
<text x="489.80" y="551.50" font-size="12" text-anchor="end" fill="#000" stroke="#000" stroke-width="0.2">50</text>
</svg>
</body></html>
